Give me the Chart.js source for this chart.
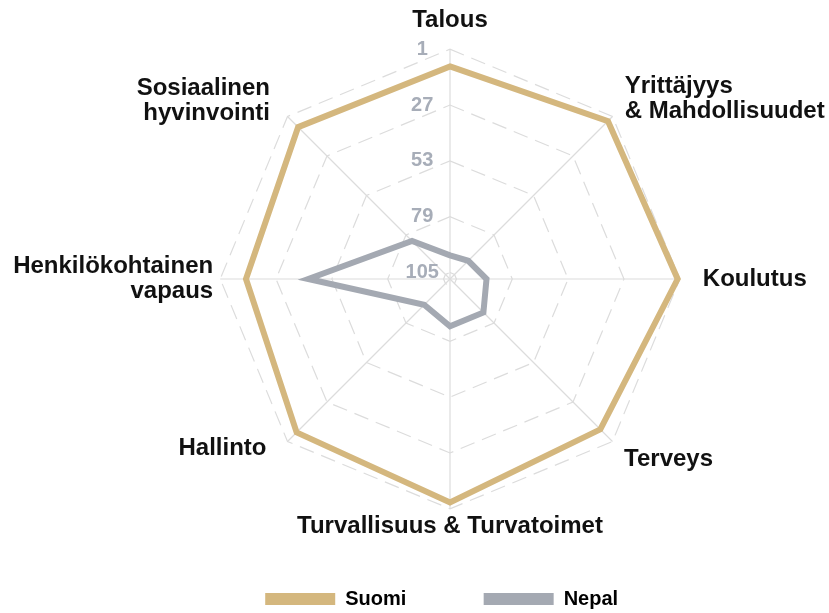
<!DOCTYPE html>
<html>
<head>
<meta charset="utf-8">
<script src="https://cdn.jsdelivr.net/npm/chart.js@4.4.1/dist/chart.umd.min.js"></script>
<style>
body{margin:0;background:#fff;}
#wrap{width:829px;height:613px;position:relative;overflow:hidden;}
#chartarea{position:absolute;left:-20px;top:0;}
</style>
</head>
<body>
<div id="wrap"><canvas id="chartarea" width="940" height="613"></canvas></div>
<script>
// sijoitukset (1 = paras)
const categories=["Talous",["Yrittäjyys","& Mahdollisuudet"],"Koulutus","Terveys","Turvallisuus & Turvatoimet","Hallinto",["Henkilökohtainen","vapaus"],["Sosiaalinen","hyvinvointi"]];
const suomi=[9,4,2,9,4,7,13,8];
const nepal=[97,96,91,86,86,91,42,83];
const tickValues=[108,105,79,53,27,1];
const rankMax=108;

// label nudges per axis (padding, spaces before, spaces after)
const lblPad=[6,-21,13,-3,-5,-18,-3,-23];
const lblLead=[0,3,0,1,0,0,0,0];
const lblTrail=[0,0,0,0,0,4,0,4];

const chart=document.querySelector("#chartarea");
const fam="Liberation Sans, Arial, sans-serif";

const myChart=new Chart(chart,{
  type:"radar",
  data:{
    labels:categories,
    datasets:[
      {label:"Suomi",data:suomi,borderColor:"#d4b77e",backgroundColor:"#d4b77e",borderWidth:6,fill:false,pointRadius:0,borderJoinStyle:"miter",tension:0},
      {label:"Nepal",data:nepal,borderColor:"#a4a9b2",backgroundColor:"#a4a9b2",borderWidth:6,fill:false,pointRadius:0,borderJoinStyle:"miter",tension:0}
    ]
  },
  options:{
    responsive:false,
    animation:false,
    layout:{padding:{top:3,bottom:-6,left:0,right:0}},
    plugins:{
      tooltip:{enabled:false},
      legend:{
        position:"bottom",
        labels:{
          boxWidth:70,boxHeight:12,padding:44,color:"#000",
          font:{family:fam,size:20,weight:"bold"},
          generateLabels:(c)=>{
            const items=Chart.defaults.plugins.legend.labels.generateLabels(c);
            items.forEach((it,i)=>{ it.text=it.text+" ".repeat(i===0?6:3); it.lineWidth=0; });
            return items;
          }
        }
      }
    },
    scales:{
      r:{
        min:1,max:rankMax,reverse:true,
        afterBuildTicks:(s)=>{ s.ticks=tickValues.map(v=>({value:v})); },
        ticks:{
          reverse:true,
          color:"#a7adb8",
          font:{family:fam,size:20,weight:"bold"},
          showLabelBackdrop:false,
          backdropPadding:0,
          callback:(v)=> v===rankMax ? "" : v+" ".repeat(10)
        },
        grid:{color:"#dcdcdc",lineWidth:1.2},
        border:{dash:[15,8]},
        angleLines:{color:"#dcdcdc",lineWidth:1.2},
        pointLabels:{
          color:"#111",
          font:{family:fam,size:24,weight:"bold",lineHeight:1.05},
          padding:(ctx)=>lblPad[ctx.index],
          callback:(label,i)=>{
            const lines=Array.isArray(label)?label:[label];
            return lines.map(t=>" ".repeat(lblLead[i])+t+" ".repeat(lblTrail[i]));
          }
        }
      }
    }
  }
});
</script>
</body>
</html>
